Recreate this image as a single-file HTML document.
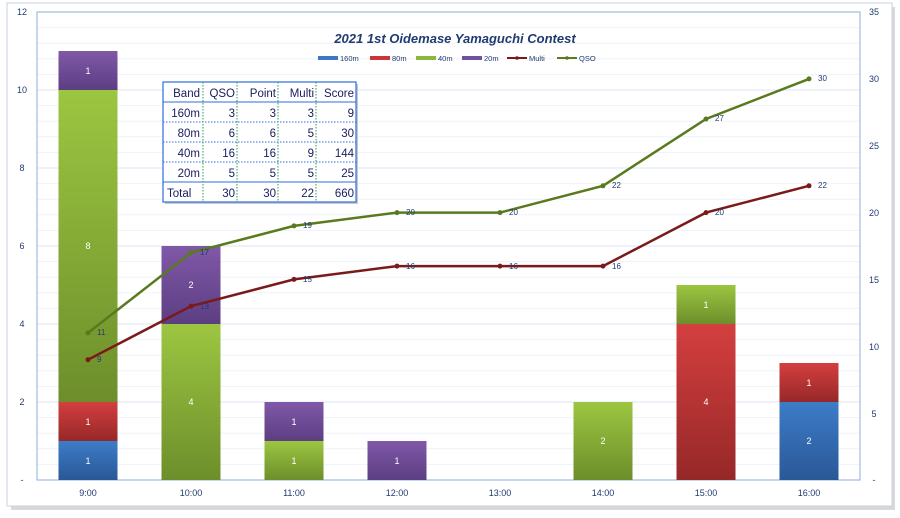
<!DOCTYPE html>
<html><head><meta charset="utf-8"><style>
body{margin:0;background:#fff;width:900px;height:513px;overflow:hidden;font-family:"Liberation Sans",sans-serif}
</style></head><body>
<svg width="900" height="513" xmlns="http://www.w3.org/2000/svg" font-family="Liberation Sans, sans-serif">
<defs>
<linearGradient id="gb" x1="0" y1="0" x2="0" y2="1"><stop offset="0" stop-color="#3d7cc8"/><stop offset="1" stop-color="#2a5896"/></linearGradient>
<linearGradient id="gr" x1="0" y1="0" x2="0" y2="1"><stop offset="0" stop-color="#d43f3f"/><stop offset="1" stop-color="#962828"/></linearGradient>
<linearGradient id="gg" x1="0" y1="0" x2="0" y2="1"><stop offset="0" stop-color="#9cc641"/><stop offset="1" stop-color="#6d8e2b"/></linearGradient>
<linearGradient id="gp" x1="0" y1="0" x2="0" y2="1"><stop offset="0" stop-color="#8058a8"/><stop offset="1" stop-color="#5c3e82"/></linearGradient>
</defs>
<rect x="11" y="7" width="884" height="503" fill="#d8d8d8"/>
<rect x="7" y="3" width="885" height="503" fill="#fff" stroke="#c8d2e2"/>
<g stroke="#eef2f8" stroke-width="1">
<line x1="37" x2="860" y1="27.6" y2="27.6"/><line x1="37" x2="860" y1="43.2" y2="43.2"/><line x1="37" x2="860" y1="58.8" y2="58.8"/><line x1="37" x2="860" y1="74.4" y2="74.4"/>
<line x1="37" x2="860" y1="105.6" y2="105.6"/><line x1="37" x2="860" y1="121.2" y2="121.2"/><line x1="37" x2="860" y1="136.8" y2="136.8"/><line x1="37" x2="860" y1="152.4" y2="152.4"/>
<line x1="37" x2="860" y1="183.6" y2="183.6"/><line x1="37" x2="860" y1="199.2" y2="199.2"/><line x1="37" x2="860" y1="214.8" y2="214.8"/><line x1="37" x2="860" y1="230.4" y2="230.4"/>
<line x1="37" x2="860" y1="261.6" y2="261.6"/><line x1="37" x2="860" y1="277.2" y2="277.2"/><line x1="37" x2="860" y1="292.8" y2="292.8"/><line x1="37" x2="860" y1="308.4" y2="308.4"/>
<line x1="37" x2="860" y1="339.6" y2="339.6"/><line x1="37" x2="860" y1="355.2" y2="355.2"/><line x1="37" x2="860" y1="370.8" y2="370.8"/><line x1="37" x2="860" y1="386.4" y2="386.4"/>
<line x1="37" x2="860" y1="417.6" y2="417.6"/><line x1="37" x2="860" y1="433.2" y2="433.2"/><line x1="37" x2="860" y1="448.8" y2="448.8"/><line x1="37" x2="860" y1="464.4" y2="464.4"/>
</g>
<g stroke="#dce6f2" stroke-width="1">
<line x1="37" x2="860" y1="90" y2="90"/><line x1="37" x2="860" y1="168" y2="168"/><line x1="37" x2="860" y1="246" y2="246"/><line x1="37" x2="860" y1="324" y2="324"/><line x1="37" x2="860" y1="402" y2="402"/>
</g>
<rect x="37" y="12" width="823" height="468" fill="none" stroke="#8eaedb"/>
<g font-size="9" fill="#1f3b70" text-anchor="middle">
<text x="22" y="15">12</text><text x="22" y="93">10</text><text x="22" y="171">8</text><text x="22" y="249">6</text><text x="22" y="327">4</text><text x="22" y="405">2</text><text x="22" y="483">-</text>
<text x="874" y="15">35</text><text x="874" y="82">30</text><text x="874" y="149">25</text><text x="874" y="216">20</text><text x="874" y="283">15</text><text x="874" y="350">10</text><text x="874" y="417">5</text><text x="874" y="483">-</text>
<text x="88" y="496">9:00</text><text x="191" y="496">10:00</text><text x="294" y="496">11:00</text><text x="397" y="496">12:00</text><text x="500" y="496">13:00</text><text x="603" y="496">14:00</text><text x="706" y="496">15:00</text><text x="809" y="496">16:00</text>
</g>
<g>
<rect x="58.5" y="441" width="59" height="39" fill="url(#gb)"/><rect x="58.5" y="402" width="59" height="39" fill="url(#gr)"/><rect x="58.5" y="90" width="59" height="312" fill="url(#gg)"/><rect x="58.5" y="51" width="59" height="39" fill="url(#gp)"/>
<rect x="161.5" y="324" width="59" height="156" fill="url(#gg)"/><rect x="161.5" y="246" width="59" height="78" fill="url(#gp)"/>
<rect x="264.5" y="441" width="59" height="39" fill="url(#gg)"/><rect x="264.5" y="402" width="59" height="39" fill="url(#gp)"/>
<rect x="367.5" y="441" width="59" height="39" fill="url(#gp)"/>
<rect x="573.5" y="402" width="59" height="78" fill="url(#gg)"/>
<rect x="676.5" y="324" width="59" height="156" fill="url(#gr)"/><rect x="676.5" y="285" width="59" height="39" fill="url(#gg)"/>
<rect x="779.5" y="402" width="59" height="78" fill="url(#gb)"/><rect x="779.5" y="363" width="59" height="39" fill="url(#gr)"/>
</g>
<g font-size="9" fill="#fff" text-anchor="middle">
<text x="88" y="464">1</text><text x="88" y="425">1</text><text x="88" y="249">8</text><text x="88" y="74">1</text>
<text x="191" y="405">4</text><text x="191" y="288">2</text>
<text x="294" y="464">1</text><text x="294" y="425">1</text>
<text x="397" y="464">1</text>
<text x="603" y="444">2</text>
<text x="706" y="405">4</text><text x="706" y="308">1</text>
<text x="809" y="444">2</text><text x="809" y="386">1</text>
</g>
<polyline points="88,359.7 191,306.2 294,279.4 397,266.1 500,266.1 603,266.1 706,212.6 809,185.8" fill="none" stroke="#7a1a1a" stroke-width="2.5"/>
<polyline points="88,332.9 191,252.7 294,225.9 397,212.6 500,212.6 603,185.8 706,119 809,78.9" fill="none" stroke="#5a7a1e" stroke-width="2.5"/>
<g fill="#7a1a1a"><circle cx="88" cy="359.7" r="2.5"/><circle cx="191" cy="306.2" r="2.5"/><circle cx="294" cy="279.4" r="2.5"/><circle cx="397" cy="266.1" r="2.5"/><circle cx="500" cy="266.1" r="2.5"/><circle cx="603" cy="266.1" r="2.5"/><circle cx="706" cy="212.6" r="2.5"/><circle cx="809" cy="185.8" r="2.5"/></g>
<g fill="#5a7a1e"><circle cx="88" cy="332.9" r="2.5"/><circle cx="191" cy="252.7" r="2.5"/><circle cx="294" cy="225.9" r="2.5"/><circle cx="397" cy="212.6" r="2.5"/><circle cx="500" cy="212.6" r="2.5"/><circle cx="603" cy="185.8" r="2.5"/><circle cx="706" cy="119" r="2.5"/><circle cx="809" cy="78.9" r="2.5"/></g>
<g font-size="8" fill="#1f3b70">
<text x="97" y="362">9</text><text x="200" y="309">13</text><text x="303" y="282">15</text><text x="406" y="269">16</text><text x="509" y="269">16</text><text x="612" y="269">16</text><text x="715" y="215">20</text><text x="818" y="188">22</text>
<text x="97" y="335">11</text><text x="200" y="255">17</text><text x="303" y="228">19</text><text x="406" y="215">20</text><text x="509" y="215">20</text><text x="612" y="188">22</text><text x="715" y="121">27</text><text x="818" y="81">30</text>
</g>
<text x="455" y="43" text-anchor="middle" font-size="13" font-weight="bold" font-style="italic" fill="#1f3b70">2021 1st Oidemase  Yamaguchi Contest</text>
<g font-size="7.5" fill="#1f3b70">
<rect x="318" y="56" width="20" height="4" fill="#3a78c4"/><text x="340" y="61">160m</text>
<rect x="370" y="56" width="20" height="4" fill="#c83636"/><text x="392" y="61">80m</text>
<rect x="416" y="56" width="20" height="4" fill="#8ab83a"/><text x="438" y="61">40m</text>
<rect x="462" y="56" width="20" height="4" fill="#7050a0"/><text x="484" y="61">20m</text>
<line x1="507" x2="527" y1="58" y2="58" stroke="#7a1a1a" stroke-width="2"/><circle cx="517" cy="58" r="1.8" fill="#7a1a1a"/><text x="529" y="61">Multi</text>
<line x1="557" x2="577" y1="58" y2="58" stroke="#5a7a1e" stroke-width="2"/><circle cx="567" cy="58" r="1.8" fill="#5a7a1e"/><text x="579" y="61">QSO</text>
</g>
<rect x="165" y="84" width="193" height="120" fill="#c8c8c8"/>
<rect x="163" y="82" width="193" height="120" fill="#fff" stroke="#2d6de0" stroke-width="1.2"/>
<g stroke="#2d6de0" stroke-width="1">
<line x1="163" x2="356" y1="102" y2="102"/><line x1="163" x2="356" y1="182" y2="182"/>
</g>
<g stroke="#2d6de0" stroke-width="1" stroke-dasharray="1.5,1.5">
<line x1="163" x2="356" y1="122" y2="122"/><line x1="163" x2="356" y1="142" y2="142"/><line x1="163" x2="356" y1="162" y2="162"/>
</g>
<g stroke="#2a9a50" stroke-width="1" stroke-dasharray="1.5,1.5">
<line x1="203" x2="203" y1="82" y2="202"/><line x1="237" x2="237" y1="82" y2="202"/><line x1="278" x2="278" y1="82" y2="202"/><line x1="316" x2="316" y1="82" y2="202"/>
</g>
<g font-size="11.5" fill="#1a2060" text-anchor="end">
<text x="200" y="97">Band</text><text x="235" y="97">QSO</text><text x="276" y="97">Point</text><text x="314" y="97">Multi</text><text x="354" y="97">Score</text>
<text x="200" y="117">160m</text><text x="235" y="117">3</text><text x="276" y="117">3</text><text x="314" y="117">3</text><text x="354" y="117">9</text>
<text x="200" y="137">80m</text><text x="235" y="137">6</text><text x="276" y="137">6</text><text x="314" y="137">5</text><text x="354" y="137">30</text>
<text x="200" y="157">40m</text><text x="235" y="157">16</text><text x="276" y="157">16</text><text x="314" y="157">9</text><text x="354" y="157">144</text>
<text x="200" y="177">20m</text><text x="235" y="177">5</text><text x="276" y="177">5</text><text x="314" y="177">5</text><text x="354" y="177">25</text>
<text x="167" y="197" text-anchor="start">Total</text><text x="235" y="197">30</text><text x="276" y="197">30</text><text x="314" y="197">22</text><text x="354" y="197">660</text>
</g>
</svg>
</body></html>
